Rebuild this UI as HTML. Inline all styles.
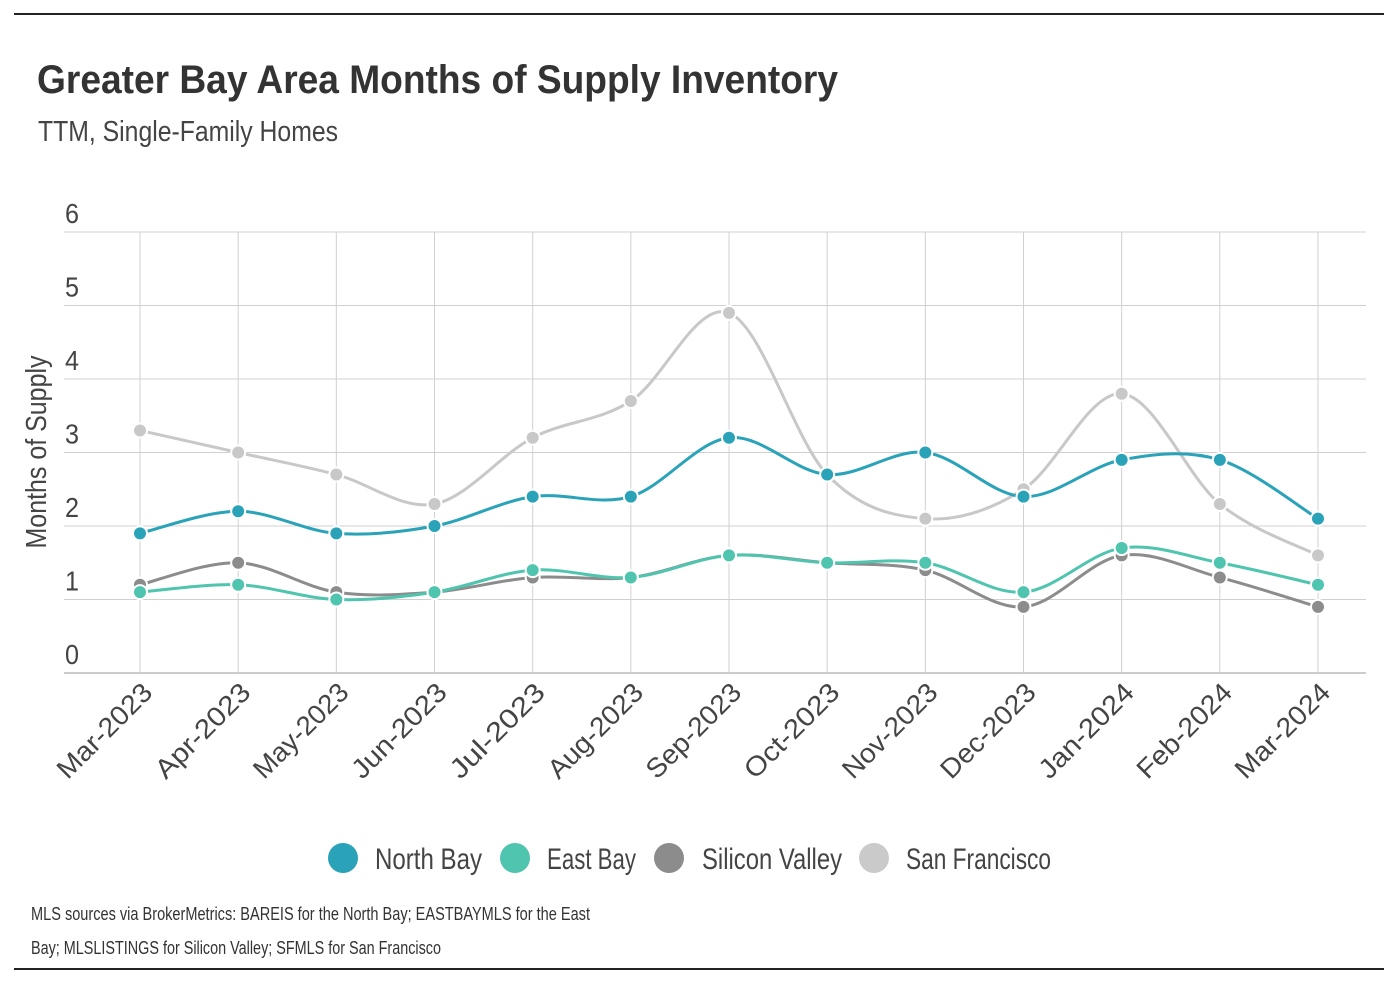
<!DOCTYPE html>
<html><head><meta charset="utf-8"><style>
body{margin:0;background:#fff;width:1396px;height:982px;overflow:hidden;font-family:"Liberation Sans",sans-serif;}
svg text{font-family:"Liberation Sans",sans-serif;}
</style></head><body>
<svg width="1396" height="982">
<line x1="14" y1="14" x2="1384" y2="14" stroke="#222" stroke-width="2"/>
<line x1="14" y1="969" x2="1384" y2="969" stroke="#222" stroke-width="2"/>
<text x="37" y="93" font-size="40" font-weight="bold" fill="#333" textLength="801" lengthAdjust="spacingAndGlyphs">Greater Bay Area Months of Supply Inventory</text>
<text x="38" y="141" font-size="29" fill="#444" textLength="300" lengthAdjust="spacingAndGlyphs">TTM, Single-Family Homes</text>
<text transform="translate(46,452) rotate(-90)" text-anchor="middle" font-size="29" fill="#444" textLength="193" lengthAdjust="spacingAndGlyphs">Months of Supply</text>
<g id="grid"></g><g id="series"></g><g id="xl"></g>
<g>
<circle cx="343" cy="858" r="15" fill="#2aa3b8"/><text x="375" y="869" font-size="30" fill="#444" textLength="107" lengthAdjust="spacingAndGlyphs">North Bay</text>
<circle cx="515" cy="858" r="15" fill="#4fc4ae"/><text x="547" y="869" font-size="30" fill="#444" textLength="89" lengthAdjust="spacingAndGlyphs">East Bay</text>
<circle cx="669" cy="858" r="15" fill="#8c8c8c"/><text x="702" y="869" font-size="30" fill="#444" textLength="140" lengthAdjust="spacingAndGlyphs">Silicon Valley</text>
<circle cx="874" cy="858" r="15" fill="#cacaca"/><text x="906" y="869" font-size="30" fill="#444" textLength="145" lengthAdjust="spacingAndGlyphs">San Francisco</text>
</g>
<text x="31" y="920" font-size="18" fill="#333" textLength="559" lengthAdjust="spacingAndGlyphs">MLS sources via BrokerMetrics: BAREIS for the North Bay; EASTBAYMLS for the East</text>
<text x="31" y="954" font-size="18" fill="#333" textLength="410" lengthAdjust="spacingAndGlyphs">Bay; MLSLISTINGS for Silicon Valley; SFMLS for San Francisco</text>
</svg>
<script>
const categories=["Mar-2023","Apr-2023","May-2023","Jun-2023","Jul-2023","Aug-2023","Sep-2023","Oct-2023","Nov-2023","Dec-2023","Jan-2024","Feb-2024","Mar-2024"];
const yTicks=[0,1,2,3,4,5,6];
const northBay=[1.9,2.2,1.9,2.0,2.4,2.4,3.2,2.7,3.0,2.4,2.9,2.9,2.1];
const eastBay=[1.1,1.2,1.0,1.1,1.4,1.3,1.6,1.5,1.5,1.1,1.7,1.5,1.2];
const siliconValley=[1.2,1.5,1.1,1.1,1.3,1.3,1.6,1.5,1.4,0.9,1.6,1.3,0.9];
const sanFrancisco=[3.3,3.0,2.7,2.3,3.2,3.7,4.9,2.7,2.1,2.5,3.8,2.3,1.6];
const NS="http://www.w3.org/2000/svg";
const xS=i=>140+i*(1318-140)/(categories.length-1);
const yS=v=>673-v*(673-232)/6;
function mk(t,a,p){const e=document.createElementNS(NS,t);for(const k in a)e.setAttribute(k,a[k]);p.appendChild(e);return e;}
const grid=document.getElementById('grid');
yTicks.forEach(v=>{
  const l=mk('line',{x1:64,x2:1366,y1:yS(v),y2:yS(v),stroke:v===0?'#999':'#d0d0d0','stroke-width':1},grid);
  
  
  const t=mk('text',{x:72,y:yS(v)-9,'text-anchor':'middle','font-size':28,fill:'#444',textLength:14,lengthAdjust:'spacingAndGlyphs'},grid);
  t.textContent=v;
  
  
});
categories.forEach((c,i)=>{
  const l=mk('line',{x1:xS(i),x2:xS(i),y1:232,y2:673,stroke:'#d0d0d0','stroke-width':1},grid);
  
  
  const t=mk('text',{transform:`translate(${xS(i)+14},${694}) rotate(-45)`,'text-anchor':'end','font-size':27,fill:'#444',textLength:122,lengthAdjust:'spacingAndGlyphs'},document.getElementById('xl'));
  t.textContent=c;
  
  
});
function path(vals){
  const p=vals.map((v,i)=>[xS(i),yS(v)]);
  let d=`M${p[0][0]},${p[0][1]}`;
  for(let i=0;i<p.length-1;i++){
    const p0=p[i-1]||p[i],p1=p[i],p2=p[i+1],p3=p[i+2]||p2;
    const c1=[p1[0]+(p2[0]-p0[0])/6,p1[1]+(p2[1]-p0[1])/6];
    const c2=[p2[0]-(p3[0]-p1[0])/6,p2[1]-(p3[1]-p1[1])/6];
    d+=` C${c1[0]},${c1[1]} ${c2[0]},${c2[1]} ${p2[0]},${p2[1]}`;
  }
  return d;
}
const S=document.getElementById('series');
[[sanFrancisco,'#c8c8c8','san-francisco'],[siliconValley,'#8c8c8c','silicon-valley'],[eastBay,'#4fc4ae','east-bay'],[northBay,'#2aa3b8','north-bay']].forEach(([vals,col,nm])=>{
  const g=mk('g',{},S);
  
  
  const pa=mk('path',{d:path(vals),fill:'none',stroke:col,'stroke-width':3},g);
  
  
  vals.forEach((v,i)=>{
    const c=mk('circle',{cx:xS(i),cy:yS(v),r:7,fill:col,stroke:'#fff','stroke-width':2},g);
    
    
  });
});
</script>
</body></html>
